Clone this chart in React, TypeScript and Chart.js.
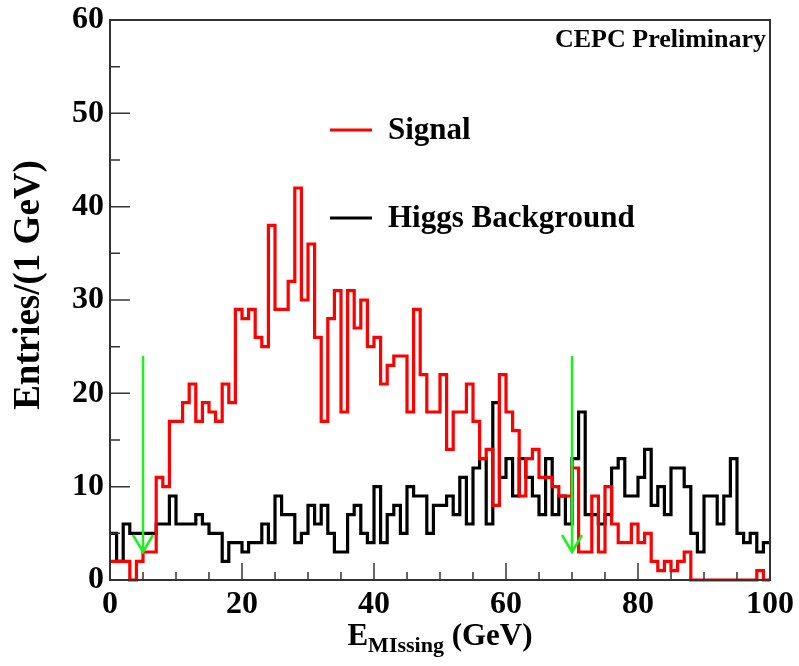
import React, { useEffect, useRef } from "react";
import { Chart, registerables } from "chart.js";

Chart.register(...registerables);

// ---- data (entries per 1 GeV bin, bins 0..99 GeV) ----
const signalCounts = [
  2, 2, 2, 0, 2, 3, 3, 11, 10, 17,
  17, 19, 21, 17, 19, 18, 17, 21, 19, 29,
  28, 29, 26, 25, 38, 29, 29, 32, 42, 30,
  36, 26, 17, 28, 31, 18, 31, 27, 30, 25,
  26, 21, 23, 24, 24, 18, 29, 22, 18, 18,
  22, 14, 18, 18, 21, 17, 13, 14, 8, 22,
  18, 16, 9, 13, 14, 11, 11, 10, 9, 9,
  12, 3, 3, 9, 3, 10, 6, 4, 4, 6,
  4, 5, 2, 1, 2, 1, 2, 3, 0, 0,
  0, 0, 0, 0, 0, 0, 0, 0, 1, 0,
];

const higgsBkgCounts = [
  5, 2, 6, 5, 5, 5, 5, 6, 6, 9,
  6, 6, 6, 7, 6, 5, 5, 2, 4, 4,
  3, 4, 4, 6, 4, 9, 7, 7, 4, 5,
  8, 6, 8, 5, 3, 3, 7, 8, 5, 4,
  10, 4, 7, 8, 5, 10, 9, 9, 5, 8,
  8, 9, 7, 11, 6, 12, 13, 6, 19, 11,
  13, 9, 13, 11, 9, 7, 13, 7, 9, 6,
  13, 18, 7, 7, 6, 7, 12, 13, 9, 9,
  11, 14, 8, 10, 7, 12, 12, 10, 5, 3,
  9, 9, 6, 9, 13, 5, 4, 5, 3, 4,
];

const seriesNames = ["Signal", "Higgs Background"];
const seriesColors = ["#ff0000", "#000000"];

const xRange = [0, 100];
const yRange = [0, 60];
const binWidth = 1;
const xMajorTicks = [0, 20, 40, 60, 80, 100];
const xMinorTicks = [5, 10, 15, 25, 30, 35, 45, 50, 55, 65, 70, 75, 85, 90, 95];
const yMajorTicks = [0, 10, 20, 30, 40, 50, 60];
const yMinorTicks = [5, 15, 25, 35, 45, 55];

const cutPositions = [5, 70];
const arrowTopValue = 24;
const arrowTipValue = 3;

const xTitleMain = "E";
const xTitleSub = "MIssing";
const xTitleUnit = " (GeV)";
const yTitle = "Entries/(1 GeV)";
const tagText = "CEPC Preliminary";

const SERIF = "'Liberation Serif', 'DejaVu Serif', serif";

function toSteps(counts: number[]) {
  const pts = counts.map((v, i) => ({ x: xRange[0] + i * binWidth, y: v }));
  pts.push({ x: xRange[0] + counts.length * binWidth, y: counts[counts.length - 1] });
  return pts;
}

const decorPlugin = {
  id: "decor",
  afterDatasetsDraw(chart: any) {
    const { ctx, chartArea: a, scales } = chart;
    const xs = scales.x;
    const ys = scales.y;
    ctx.save();

    // inward ticks
    ctx.strokeStyle = "#333";
    ctx.lineWidth = 1.5;
    ctx.beginPath();
    xMajorTicks.forEach((v) => {
      const px = xs.getPixelForValue(v);
      ctx.moveTo(px, a.bottom);
      ctx.lineTo(px, a.bottom - 17);
    });
    xMinorTicks.forEach((v) => {
      const px = xs.getPixelForValue(v);
      ctx.moveTo(px, a.bottom);
      ctx.lineTo(px, a.bottom - 8);
    });
    yMajorTicks.forEach((v) => {
      const py = ys.getPixelForValue(v);
      ctx.moveTo(a.left, py);
      ctx.lineTo(a.left + 20, py);
    });
    yMinorTicks.forEach((v) => {
      const py = ys.getPixelForValue(v);
      ctx.moveTo(a.left, py);
      ctx.lineTo(a.left + 10, py);
    });
    ctx.stroke();

    // frame
    ctx.strokeStyle = "#333";
    ctx.lineWidth = 2;
    ctx.strokeRect(a.left, a.top, a.right - a.left, a.bottom - a.top);

    // cut arrows
    ctx.strokeStyle = "rgb(30,240,30)";
    ctx.lineWidth = 2.5;
    cutPositions.forEach((c) => {
      const px = xs.getPixelForValue(c);
      const top = ys.getPixelForValue(arrowTopValue);
      const tip = ys.getPixelForValue(arrowTipValue);
      ctx.beginPath();
      ctx.moveTo(px, top);
      ctx.lineTo(px, tip);
      ctx.moveTo(px - 10, tip - 17);
      ctx.lineTo(px, tip);
      ctx.lineTo(px + 10, tip - 17);
      ctx.stroke();
    });

    // legend
    const legendX = a.left + 220;
    const legendYs = [a.top + 110, a.top + 198];
    chart.data.datasets.forEach((ds: any, i: number) => {
      const ly = legendYs[i];
      ctx.strokeStyle = ds.borderColor;
      ctx.lineWidth = 3.2;
      ctx.beginPath();
      ctx.moveTo(legendX, ly);
      ctx.lineTo(legendX + 42, ly);
      ctx.stroke();
      ctx.fillStyle = "#000";
      ctx.font = `bold 31px ${SERIF}`;
      ctx.textAlign = "left";
      ctx.textBaseline = "middle";
      ctx.fillText(ds.label, legendX + 58, ly + 1);
    });

    // tag
    ctx.fillStyle = "#000";
    ctx.font = `bold 26px ${SERIF}`;
    ctx.textAlign = "left";
    ctx.textBaseline = "middle";
    ctx.fillText(tagText, a.right - 215, a.top + 20);

    // x title
    ctx.textBaseline = "alphabetic";
    ctx.font = `bold 31px ${SERIF}`;
    const wE = ctx.measureText(xTitleMain).width;
    const wU = ctx.measureText(xTitleUnit).width;
    ctx.font = `bold 22px ${SERIF}`;
    const wS = ctx.measureText(xTitleSub).width;
    const total = wE + wS + wU;
    let tx = (a.left + a.right) / 2 - total / 2;
    const base = a.bottom + 65;
    ctx.font = `bold 31px ${SERIF}`;
    ctx.fillText(xTitleMain, tx, base);
    tx += wE;
    ctx.font = `bold 22px ${SERIF}`;
    ctx.fillText(xTitleSub, tx, base + 7);
    tx += wS;
    ctx.font = `bold 31px ${SERIF}`;
    ctx.fillText(xTitleUnit, tx, base);

    // y title
    ctx.save();
    ctx.translate(29, (a.top + a.bottom) / 2 - 15);
    ctx.rotate(-Math.PI / 2);
    ctx.font = `bold 37px ${SERIF}`;
    ctx.textAlign = "center";
    ctx.textBaseline = "middle";
    ctx.fillText(yTitle, 0, 0);
    ctx.restore();

    ctx.restore();
  },
};

export default function App() {
  const canvasRef = useRef<HTMLCanvasElement | null>(null);

  useEffect(() => {
    const canvas = canvasRef.current;
    if (!canvas) return;
    const tickFont = { family: SERIF, weight: "bold" as const, size: 32 };
    const chart = new Chart(canvas, {
      type: "line",
      data: {
        datasets: [
          {
            label: seriesNames[0],
            data: toSteps(signalCounts),
            borderColor: seriesColors[0],
            borderWidth: 3.2,
            stepped: "before",
            pointRadius: 0,
            fill: false,
            clip: false as any,
          },
          {
            label: seriesNames[1],
            data: toSteps(higgsBkgCounts),
            borderColor: seriesColors[1],
            borderWidth: 3.2,
            stepped: "before",
            pointRadius: 0,
            fill: false,
            clip: false as any,
          },
        ],
      },
      options: {
        animation: false,
        responsive: false,
        events: [],
        layout: { padding: { left: 0, right: 29, top: 20, bottom: 0 } },
        plugins: {
          legend: { display: false },
          tooltip: { enabled: false },
          title: { display: false },
        },
        scales: {
          x: {
            type: "linear",
            min: xRange[0],
            max: xRange[1],
            grid: { display: false, drawTicks: false },
            border: { display: false },
            afterBuildTicks: (s: any) => {
              s.ticks = xMajorTicks.map((v) => ({ value: v }));
            },
            afterFit: (s: any) => {
              s.height = 86;
              s.paddingLeft = 0;
              s.paddingRight = 0;
            },
            ticks: {
              font: tickFont,
              color: "#000",
              padding: 6,
              maxRotation: 0,
              autoSkip: false,
            },
          },
          y: {
            type: "linear",
            min: yRange[0],
            max: yRange[1],
            grid: { display: false, drawTicks: false },
            border: { display: false },
            afterBuildTicks: (s: any) => {
              s.ticks = yMajorTicks.map((v) => ({ value: v }));
            },
            afterFit: (s: any) => {
              s.width = 110;
              s.paddingTop = 0;
              s.paddingBottom = 0;
            },
            ticks: {
              font: tickFont,
              color: "#000",
              padding: 6,
            },
          },
        },
      },
      plugins: [decorPlugin],
    });
    return () => chart.destroy();
  }, []);

  return (
    <div style={{ position: "absolute", left: 0, top: 0, width: 799, height: 666, background: "#fff" }}>
      <canvas ref={canvasRef} width={799} height={666} style={{ display: "block" }} />
    </div>
  );
}
